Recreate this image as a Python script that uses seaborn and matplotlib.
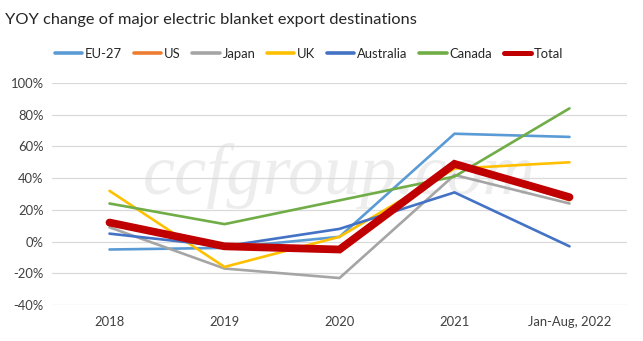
import matplotlib
matplotlib.use("Agg")
import matplotlib.pyplot as plt
import seaborn as sns
import pandas as pd
from matplotlib.ticker import FuncFormatter
from matplotlib.lines import Line2D

categories = ["2018", "2019", "2020", "2021", "Jan-Aug, 2022"]
eu27 = [-5, -4, 3, 68, 66]
us = [13, -2, -5, 49, 26]
japan = [9, -17, -23, 42, 24]
uk = [32, -16, 3, 46, 50]
australia = [5, -3, 8, 31, -3]
canada = [24, 11, 26, 41, 84]
total = [12, -3, -5, 49, 28]

series = {"EU-27": eu27, "US": us, "Japan": japan, "UK": uk,
          "Australia": australia, "Canada": canada, "Total": total}
colors = {"EU-27": "#5B9BD5", "US": "#ED7D31", "Japan": "#A5A5A5", "UK": "#FFC000",
          "Australia": "#4472C4", "Canada": "#70AD47", "Total": "#C00000"}

rows = []
for name, vals in series.items():
    for i, (c, v) in enumerate(zip(categories, vals)):
        rows.append({"cat": c, "x": i, "series": name, "value": v})
df = pd.DataFrame(rows)

sns.set_style("white")
plt.rcParams["font.family"] = ["Lato", "DejaVu Sans"]

fig = plt.figure(figsize=(6.43, 3.41), dpi=100)
ax = fig.add_axes([52/643, 36/341, 575/643, 222/341])

# watermark
ax.text(0.5, 0.58, "ccfgroup.com", transform=ax.transAxes, ha="center", va="center",
        fontsize=52, fontstyle="italic", family="Liberation Serif", color="#EDEDED", zorder=0)

sns.lineplot(data=df, x="x", y="value", hue="series", palette=colors,
             hue_order=list(series.keys()), ax=ax, legend=False, sort=False)
for line, name in zip(ax.get_lines(), series.keys()):
    if name == "Total":
        line.set_linewidth(5.6)
        line.set_zorder(5)
    else:
        line.set_linewidth(1.9)
        line.set_zorder(3)
    line.set_solid_joinstyle("miter")

ax.set_xlim(-0.5, 4.5)
ax.set_ylim(-40, 100)
ax.set_yticks(range(-40, 101, 20))
ax.yaxis.set_major_formatter(FuncFormatter(lambda v, p: f"{int(v)}%"))
ax.set_xticks(range(len(categories)))
ax.set_xticklabels(categories)
ax.grid(axis="y", color="#D9D9D9", linewidth=0.9)
ax.set_axisbelow(True)
for s in ax.spines.values():
    s.set_visible(False)
ax.tick_params(axis="both", length=0, labelsize=9.4, colors="#404040", pad=8)
ax.tick_params(axis="y", pad=6)
ax.set_xlabel("")
ax.set_ylabel("")

handles = [Line2D([0], [0], color=colors[n], lw=3.6 if n == "Total" else 2.6) for n in series]
fig.legend(handles, list(series.keys()), loc="center", bbox_to_anchor=(309/643, 1 - 54/341),
           ncol=7, frameon=False, fontsize=9.4, handlelength=2.1, handletextpad=0.2,
           columnspacing=0.9, labelcolor="#262626")

fig.text(5/643, 1 - 20/341, "YOY change of major electric blanket export destinations",
         fontsize=11.8, ha="left", va="center", color="#262626")

fig.savefig("out.png", dpi=100)
